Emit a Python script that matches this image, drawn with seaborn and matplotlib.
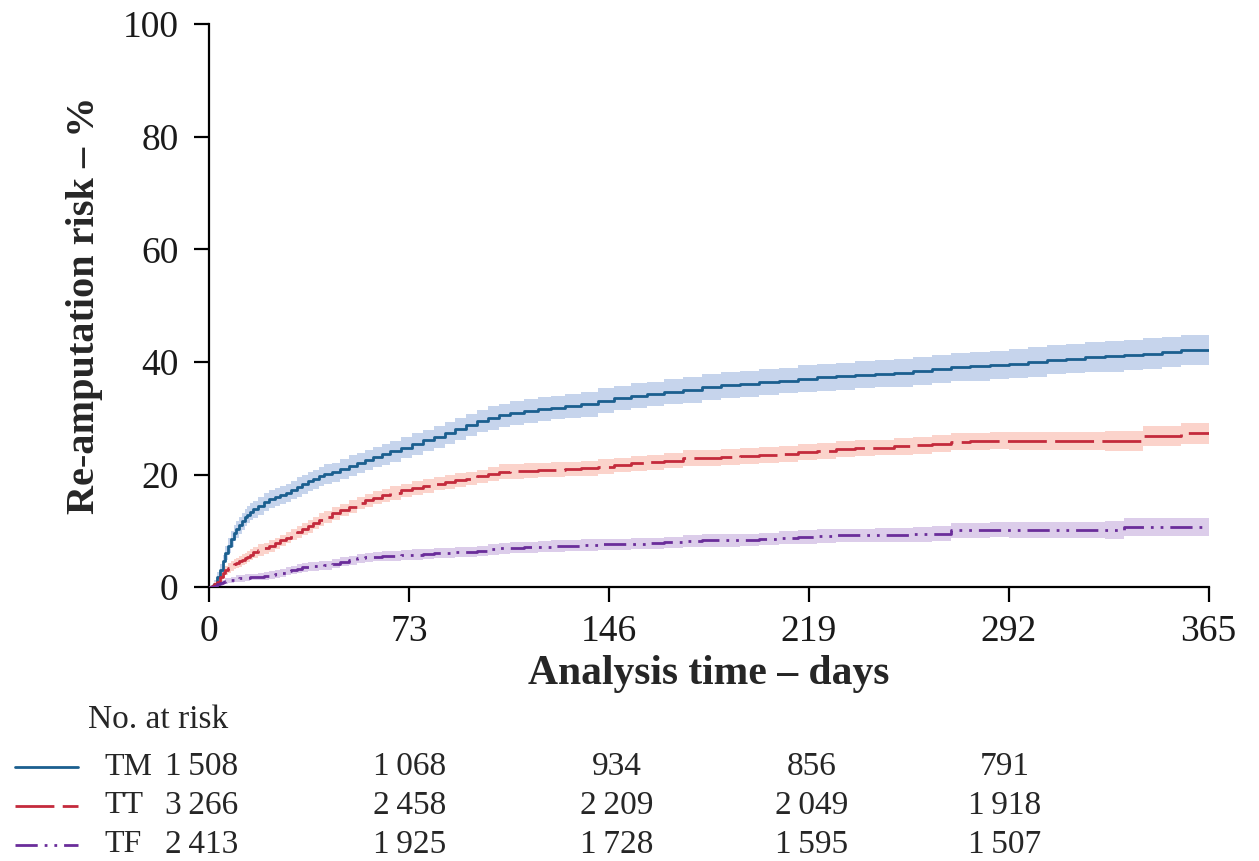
import matplotlib
matplotlib.use("Agg")
import matplotlib.pyplot as plt
from matplotlib.lines import Line2D
import pandas as pd
import seaborn as sns

# Cumulative re-amputation risk (%), step curves
days = [0, 1, 2, 3, 4, 5, 6, 7, 8, 9, 10, 11, 12, 13, 14, 15, 16,
        18, 20, 22, 24, 26, 28, 30,
        32, 34, 36, 38, 40, 42, 45,
        48, 51, 54, 57, 60,
        63, 66, 70, 74, 78,
        82, 86, 90, 94, 98,
        102, 106, 110, 115, 120, 125, 130,
        136, 142, 148, 154, 160, 166,
        173, 180, 187, 194, 201, 208,
        215, 222, 229, 236, 243,
        250, 257, 264, 271, 278, 285,
        292, 299, 306, 313, 320,
        327, 334, 341, 348, 355, 365]

tm_risk = [0, 0.2, 0.6, 1.8, 3.0, 4.6, 6.1, 7.4, 8.5, 9.6, 10.3, 11.0, 11.7, 12.4, 12.9, 13.4, 13.8,
           14.5, 15.1, 15.6, 16.0, 16.4, 16.8, 17.3,
           17.8, 18.3, 18.8, 19.2, 19.7, 20.1, 20.4,
           21.0, 21.6, 22.1, 22.6, 23.1,
           23.6, 24.1, 24.8, 25.4, 26.1,
           26.7, 27.4, 28.1, 28.8, 29.5,
           30.1, 30.5, 30.9, 31.3, 31.6, 31.9, 32.2,
           32.5, 33.1, 33.6, 34.0, 34.3, 34.7,
           35.0, 35.5, 35.9, 36.1, 36.4, 36.7,
           37.0, 37.3, 37.5, 37.7, 37.9,
           38.1, 38.4, 38.7, 39.1, 39.2, 39.5,
           39.7, 40.0, 40.4, 40.6, 40.9,
           41.0, 41.2, 41.5, 41.8, 42.1, 42.1]
tt_risk = [0, 0.2, 0.5, 1.0, 1.8, 2.5, 3.0, 3.4, 3.8, 4.1, 4.3, 4.6, 4.9, 5.1, 5.4, 5.8, 6.2,
           6.6, 6.9, 7.3, 7.8, 8.3, 8.8, 9.3,
           9.8, 10.3, 10.8, 11.4, 12.0, 12.5, 13.1,
           13.7, 14.3, 14.9, 15.4, 15.9,
           16.3, 16.7, 17.2, 17.6, 18.0,
           18.4, 18.7, 19.0, 19.3, 19.7,
           20.1, 20.5, 20.6, 20.7, 20.8, 20.9, 21.0,
           21.1, 21.4, 21.7, 22.0, 22.2, 22.5,
           22.9, 23.0, 23.1, 23.3, 23.5, 23.7,
           24.0, 24.2, 24.5, 24.7, 24.8,
           25.0, 25.2, 25.5, 25.8, 25.9, 26.0,
           26.0, 26.0, 26.0, 26.0, 26.0,
           26.0, 26.0, 26.8, 26.8, 27.3, 27.3]
tf_risk = [0, 0.1, 0.3, 0.5, 0.7, 0.9, 1.1, 1.2, 1.3, 1.4, 1.5, 1.6, 1.6, 1.7, 1.7, 1.8, 1.8,
           1.9, 2.0, 2.1, 2.3, 2.6, 2.9, 3.1,
           3.3, 3.5, 3.6, 3.7, 3.8, 3.9, 4.2,
           4.5, 4.8, 5.1, 5.3, 5.4,
           5.5, 5.6, 5.7, 5.8, 5.9,
           6.0, 6.1, 6.2, 6.3, 6.5,
           6.7, 6.9, 7.0, 7.1, 7.2, 7.3, 7.4,
           7.5, 7.6, 7.6, 7.7, 7.8, 8.0,
           8.2, 8.3, 8.3, 8.4, 8.6, 8.8,
           8.9, 9.1, 9.2, 9.2, 9.3,
           9.3, 9.4, 9.5, 10.1, 10.1, 10.2,
           10.2, 10.2, 10.2, 10.2, 10.2,
           10.2, 10.7, 10.7, 10.7, 10.7, 10.7]

# half-width of the 95% CI band
tm_ci = [0, 0.3, 0.6, 0.9, 1.1, 1.2, 1.3, 1.4, 1.4, 1.4, 1.5, 1.5, 1.5, 1.5, 1.5, 1.5, 1.5,
         1.6, 1.6, 1.6, 1.6, 1.6, 1.6, 1.6,
         1.7, 1.7, 1.7, 1.7, 1.7, 1.7, 1.7,
         1.8, 1.8, 1.8, 1.8, 1.8,
         1.9, 1.9, 1.9, 1.9, 1.9,
         2.0, 2.0, 2.0, 2.0, 2.0,
         2.1, 2.1, 2.1, 2.1, 2.1, 2.1, 2.1,
         2.2, 2.2, 2.2, 2.2, 2.2, 2.2,
         2.3, 2.3, 2.3, 2.3, 2.3, 2.3,
         2.4, 2.4, 2.4, 2.4, 2.4,
         2.5, 2.5, 2.5, 2.5, 2.5, 2.5,
         2.6, 2.6, 2.6, 2.6, 2.6,
         2.7, 2.7, 2.7, 2.7, 2.7, 2.7]
tt_ci = [0, 0.2, 0.4, 0.6, 0.7, 0.8, 0.8, 0.9, 0.9, 0.9, 0.9, 1.0, 1.0, 1.0, 1.0, 1.0, 1.0,
         1.0, 1.0, 1.0, 1.0, 1.0, 1.0, 1.0,
         1.1, 1.1, 1.1, 1.1, 1.1, 1.1, 1.1,
         1.1, 1.1, 1.1, 1.1, 1.1,
         1.2, 1.2, 1.2, 1.2, 1.2,
         1.2, 1.2, 1.2, 1.2, 1.2,
         1.3, 1.3, 1.3, 1.3, 1.3, 1.3, 1.3,
         1.3, 1.3, 1.3, 1.3, 1.3, 1.3,
         1.4, 1.4, 1.4, 1.4, 1.4, 1.4,
         1.4, 1.4, 1.4, 1.4, 1.4,
         1.5, 1.5, 1.5, 1.5, 1.5, 1.5,
         1.6, 1.6, 1.6, 1.6, 1.6,
         1.8, 1.8, 1.8, 1.8, 1.8, 1.8]
tf_ci = [0, 0.1, 0.2, 0.3, 0.4, 0.4, 0.5, 0.5, 0.5, 0.5, 0.6, 0.6, 0.6, 0.6, 0.6, 0.6, 0.6,
         0.7, 0.7, 0.7, 0.7, 0.7, 0.7, 0.7,
         0.8, 0.8, 0.8, 0.8, 0.8, 0.8, 0.8,
         0.8, 0.8, 0.8, 0.8, 0.8,
         0.9, 0.9, 0.9, 0.9, 0.9,
         0.9, 0.9, 0.9, 0.9, 0.9,
         1.0, 1.0, 1.0, 1.0, 1.0, 1.0, 1.0,
         1.0, 1.0, 1.0, 1.0, 1.0, 1.0,
         1.1, 1.1, 1.1, 1.1, 1.1, 1.1,
         1.2, 1.2, 1.2, 1.2, 1.2,
         1.3, 1.3, 1.3, 1.3, 1.3, 1.3,
         1.4, 1.4, 1.4, 1.4, 1.4,
         1.6, 1.6, 1.6, 1.6, 1.6, 1.6]

groups = ["TM", "TT", "TF"]
x_ticks = [0, 73, 146, 219, 292, 365]
y_ticks = [0, 20, 40, 60, 80, 100]

# numbers at risk (thin space as thousands separator)
at_risk = {
    "TM": ["1\u2009508", "1\u2009068", "934", "856", "791"],
    "TT": ["3\u2009266", "2\u2009458", "2\u2009209", "2\u2009049", "1\u2009918"],
    "TF": ["2\u2009413", "1\u2009925", "1\u2009728", "1\u2009595", "1\u2009507"],
}

line_colors = {"TM": "#1b5f8f", "TT": "#c42a3c", "TF": "#6a2d9a"}
band_colors = {"TM": "#c6d4ec", "TT": "#fbd3cb", "TF": "#dccdea"}
line_styles = {"TM": "-", "TT": (0, (14, 3)), "TF": (0, (8, 2.5, 1, 2.5, 1, 2.5))}

sns.set_theme(style="ticks")
plt.rcParams["font.family"] = ["Liberation Serif", "DejaVu Serif"]

fig = plt.figure(figsize=(12.59, 8.61), dpi=100)
ax = fig.add_axes([0.166, 0.318, 0.794, 0.654])

series = {"TM": (tm_risk, tm_ci), "TT": (tt_risk, tt_ci), "TF": (tf_risk, tf_ci)}
for g in groups:
    risk, ci = series[g]
    df = pd.DataFrame({"day": days, "risk": risk, "ci": ci})
    ax.fill_between(df["day"], df["risk"] - df["ci"], df["risk"] + df["ci"],
                    step="post", color=band_colors[g], linewidth=0, zorder=1)
for g in groups:
    risk, ci = series[g]
    df = pd.DataFrame({"day": days, "risk": risk})
    sns.lineplot(data=df, x="day", y="risk", ax=ax, color=line_colors[g],
                 linewidth=2.0, linestyle=line_styles[g], drawstyle="steps-post",
                 estimator=None, zorder=3)

ax.set_xlim(0, 365)
ax.set_ylim(0, 100)
ax.set_xticks(x_ticks)
ax.set_yticks(y_ticks)
sns.despine(ax=ax)
for s in ["left", "bottom"]:
    ax.spines[s].set_linewidth(1.6)
    ax.spines[s].set_color("black")
ax.tick_params(axis="both", direction="out", length=11, width=1.6, color="black",
               labelsize=27, labelcolor="#1a1a1a")
ax.tick_params(axis="y", pad=11)
ax.tick_params(axis="x", pad=9)
ax.set_xlabel("Analysis time \u2013 days", fontsize=30, fontweight="bold", labelpad=4)
ax.set_ylabel("Re-amputation risk \u2013 %", fontsize=29, fontweight="bold", labelpad=14)

# risk table below the plot
fig.text(0.070, 0.164, "No. at risk", fontsize=24, va="center", ha="left")
row_y = [0.109, 0.064, 0.019]
col_x = [0.160, 0.325, 0.490, 0.645, 0.798]
for g, yy in zip(groups, row_y):
    fig.add_artist(Line2D([0.012, 0.062], [yy, yy], transform=fig.transFigure,
                          color=line_colors[g], linewidth=2.0,
                          linestyle=line_styles[g]))
    fig.text(0.083, yy, g, fontsize=23, va="center", ha="left")
    for xx, val in zip(col_x, at_risk[g]):
        fig.text(xx, yy, val, fontsize=24, va="center", ha="center")

fig.savefig("out.png", dpi=100)
